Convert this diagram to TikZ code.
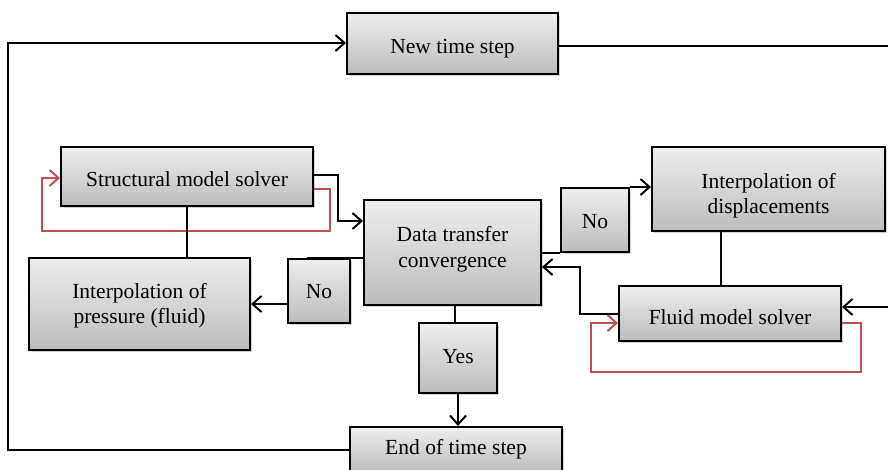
\documentclass[tikz,border=0pt]{standalone}
\usepackage{fontspec}
\setmainfont{Liberation Serif}
\usetikzlibrary{arrows.meta,shadows}
\definecolor{boxtop}{RGB}{238,238,238}
\definecolor{boxbot}{RGB}{188,188,188}
\definecolor{loopred}{RGB}{192,80,77}
\newcommand\boxtxt[2]{\raisebox{#1}[\height][\depth]{\begin{tabular}{@{}c@{}}#2\end{tabular}}}
\tikzset{
  box/.style={draw=black, line width=2pt, top color=boxtop, bottom color=boxbot,
    inner sep=0pt, align=center, font=\fontsize{21.5}{25.5}\selectfont,
    drop shadow={shadow xshift=2pt, shadow yshift=-2pt, opacity=0.35, fill=gray}},
  conn/.style={line width=2pt, draw=black},
  arr/.style={conn, -{Straight Barb[length=9pt,width=16pt]}},
  redarr/.style={line width=2pt, draw=loopred, -{Straight Barb[length=9pt,width=16pt]}},
}
\begin{document}
\begin{tikzpicture}[x=1pt,y=-1pt]
\useasboundingbox (0,0) rectangle (888,469);
\fill[white] (0,0) rectangle (888,469);

\node[box, minimum width=211pt, minimum height=61pt] (nts) at (452.5,43.5) {\boxtxt{-5pt}{New time step}};
\node[box, minimum width=252pt, minimum height=59pt] (sms) at (187,176.5) {\boxtxt{-5pt}{Structural model solver}};
\node[box, minimum width=221pt, minimum height=92pt] (ipf) at (139.5,304) {\boxtxt{-2pt}{Interpolation of\\pressure (fluid)}};
\node[box, minimum width=62pt, minimum height=64pt] (no1) at (319,291) {\boxtxt{-2pt}{No}};
\node[box, minimum width=177pt, minimum height=105pt] (dtc) at (452.5,252.5) {\boxtxt{3pt}{Data transfer\\convergence}};
\node[box, minimum width=78pt, minimum height=70pt] (yes) at (458,358) {\boxtxt{0pt}{Yes}};
\node[box, minimum width=212pt, minimum height=45pt] (ets) at (456,449.5) {\boxtxt{0pt}{End of time step}};
\node[box, minimum width=68pt, minimum height=64pt] (no2) at (595,220) {\boxtxt{-3pt}{No}};
\node[box, minimum width=233pt, minimum height=84pt] (ipd) at (768.5,189) {\boxtxt{-7pt}{Interpolation of\\displacements}};
\node[box, minimum width=222pt, minimum height=55pt] (fms) at (730,313.5) {\boxtxt{-6pt}{Fluid model solver}};

\coordinate (e1) at (888,46);
\coordinate (e2) at (888,307);
\coordinate (c1) at (8,43);
\coordinate (k1) at (338,221);
\coordinate (k2) at (580,267);
\coordinate (r1) at (330,231);
\coordinate (r2) at (42,231);
\coordinate (r3) at (861,372);
\coordinate (r4) at (591,372);

% outer loop
\draw[conn] (nts.east |- e1) -- (e1);
\draw[arr] (ets.west) -| (c1) -- (c1 -| nts.west);

% structural side
\draw[arr] ([yshift=1.5pt]sms.east) -| (k1) -- (k1 -| dtc.west);
\draw[redarr] ([yshift=-12.5pt]sms.east) -| (r1) -- (r2) |- ([yshift=-1.5pt]sms.west);
\draw[conn] (sms.south) -- (sms.south |- ipf.north);
\draw[conn] (dtc.west |- no1.north) -- ([xshift=-12pt]no1.north);
\draw[arr] (no1.west |- ipf.east) -- (ipf.east);

% yes path
\draw[conn] ([xshift=-3pt]yes.north) -- ([xshift=-3pt]yes.north |- dtc.south);
\draw[arr] (yes.south) -- (yes.south |- ets.north);

% fluid side
\draw[conn] (dtc.east |- no2.south west) -- (no2.south west);
\draw[arr] (no2.north east) -- (no2.north east -| ipd.west);
\draw[conn] ([xshift=-47.5pt]ipd.south) -- ([xshift=-47.5pt]ipd.south |- fms.north);
\draw[arr] (fms.west) -| (k2) -- (k2 -| dtc.east);
\draw[redarr] ([yshift=-9.5pt]fms.east) -| (r3) -- (r4) |- ([yshift=-9.5pt]fms.west);
\draw[arr] (e2) -- (e2 -| fms.east);
\end{tikzpicture}
\end{document}
